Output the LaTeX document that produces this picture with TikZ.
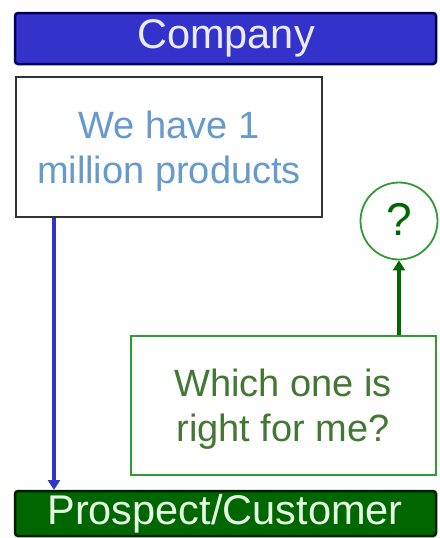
\documentclass[tikz,border=0pt]{standalone}
\usepackage{fontspec}
\setmainfont{Liberation Sans}
\usetikzlibrary{arrows.meta}
\definecolor{cblue}{HTML}{3333CC}
\definecolor{cnavy}{HTML}{000080}
\definecolor{cgreen}{HTML}{006600}
\definecolor{lgreen}{HTML}{339933}
\definecolor{tblue}{HTML}{6699CC}
\definecolor{tgreen}{HTML}{447733}
\tikzset{
  bar/.style={rounded corners=3pt, line width=2.5pt, inner sep=0pt},
  box/.style={draw, fill=white, line width=2.5pt, inner sep=0pt},
  big/.style={font=\fontsize{41.5}{45}\selectfont},
  mid/.style={font=\fontsize{38}{45}\selectfont, align=center},
}
\begin{document}
\begin{tikzpicture}[x=1pt,y=1pt]
\useasboundingbox (0,0) rectangle (439,-538);
% Company bar
\draw[bar, draw=cnavy!70!black, fill=cblue] (15,-13) rectangle (436,-64);
\node[big, text=blue!8!white] (company) at (226,-38.5) {Company};
% box 1
\draw[box, draw=black!80] (16,-77) rectangle (322,-217);
\node[mid, text=tblue] (we) at (169,-151) {We have 1\\million products};
\coordinate (wb) at (54,-218);
% bottom bar
\draw[bar, draw=black!70!cgreen, fill=cgreen] (15,-491) rectangle (436,-536);
\node[big, text=green!10!white] (prospect) at (225,-514) {Prospect/Customer};
\coordinate (pt) at (54,-490);
\draw[cblue, line width=3.5pt, -{Triangle[length=10pt,width=12pt]}] (wb) -- (pt);
% box 2
\draw[box, draw=lgreen] (131,-336) rectangle (436,-475);
\node[mid, text=tgreen] (which) at (283,-409) {Which one is\\right for me?};
\coordinate (bt) at (399,-335);
% circle
\node[draw=lgreen, line width=1.8pt, circle, minimum size=77pt, inner sep=0pt, fill=white] (q) at (399,-221) {};
\node[font=\fontsize{46}{48}\selectfont, text=cgreen] at (399,-219) {?};
\draw[cgreen, line width=3.5pt, -{Triangle[length=10pt,width=12pt]}] (bt) -- (q.south);
\end{tikzpicture}
\end{document}
